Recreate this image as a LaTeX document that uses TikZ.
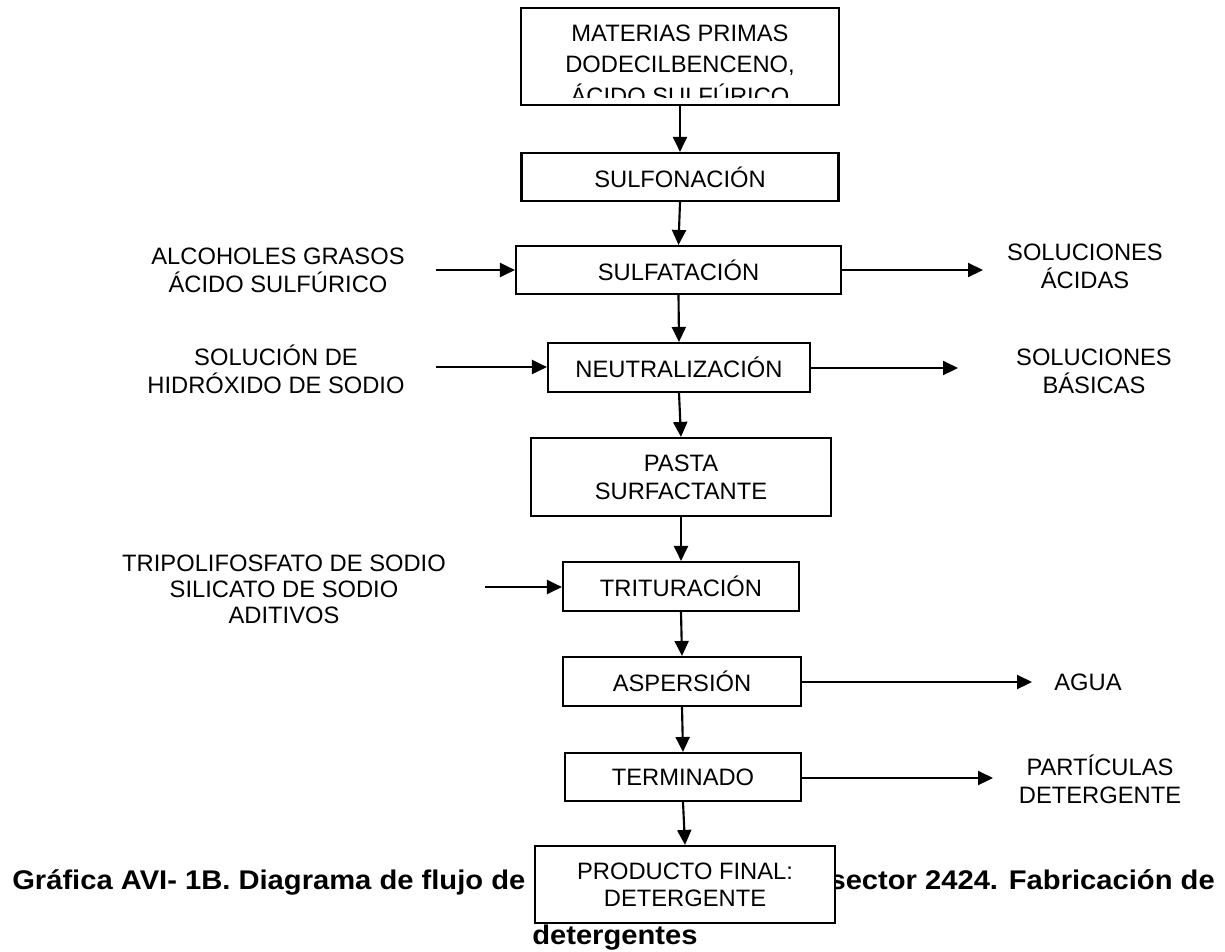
\documentclass[tikz,border=0pt]{standalone}
\usepackage{fontspec}
\usepackage{graphicx}
\setmainfont{Liberation Sans}
\usetikzlibrary{arrows.meta}
\begin{document}
\begin{tikzpicture}[x=0.75pt,y=-0.75pt,
  box/.style n args={2}{draw,line width=1.6pt,fill=white,inner sep=0pt,
    minimum width=#1*0.75pt,minimum height=#2*0.75pt,align=center,
    font=\fontsize{17.8pt}{21pt}\selectfont},
  lbl/.style={align=center,inner sep=0pt,font=\fontsize{17.8pt}{21pt}\selectfont},
  arr/.style={line width=1.6pt,-{Triangle[length=11.25pt,width=10.5pt]}},
  captxt/.style={inner sep=0pt,font=\fontsize{20.25pt}{24pt}\selectfont\bfseries}]
\useasboundingbox[fill=white] (0,0) rectangle (1225,951);

% caption (partly hidden behind the final box)
\node[captxt,anchor=base west] (capL) at (12,889) {\scalebox{1.08}[1]{Gráfica AVI- 1B. Diagrama de flujo de}};
\node[captxt,anchor=base east] (capR) at (1215,889) {\scalebox{1.08}[1]{sector 2424. Fabricación de}};
\node[captxt,anchor=base west] (capD) at (532,944) {\scalebox{1.08}[1]{detergentes}};

% process boxes
\node[box={318}{97}] (mp) at (680,56.5) {};
\begin{scope}
  \clip (521,8) rectangle (839,97);
  \node[lbl,font=\fontsize{17.8pt}{23.6pt}\selectfont] (mptxt) at (680,64.5)
    {MATERIAS PRIMAS\\DODECILBENCENO,\\ÁCIDO SULFÚRICO};
\end{scope}
\node[box={317}{48}] (sulfo) at (680,177) {SULFONACIÓN};
\node[box={325}{48}] (sulfat) at (678.5,270) {SULFATACIÓN};
\node[box={262}{49}] (neut) at (679,367.5) {NEUTRALIZACIÓN};
\node[box={300}{78}] (pasta) at (681,477) {PASTA\\SURFACTANTE};
\node[box={236}{49}] (tritu) at (681,586.5) {TRITURACIÓN};
\node[box={238}{49}] (asp) at (682,681.5) {ASPERSIÓN};
\node[box={236}{48}] (term) at (683,777) {TERMINADO};
\node[box={300}{77},font=\fontsize{17.8pt}{20.25pt}\selectfont] (prod) at (685,884.5) {PRODUCTO FINAL:\\DETERGENTE};

% side labels
\node[lbl] (alc) at (278,270) {ALCOHOLES GRASOS\\ÁCIDO SULFÚRICO};
\node[lbl] (naoh) at (276,369) {SOLUCIÓN DE\\HIDRÓXIDO DE SODIO};
\node[lbl] (acid) at (1085,266) {SOLUCIONES\\ÁCIDAS};
\node[lbl] (bas) at (1094,371) {SOLUCIONES\\BÁSICAS};
\node[lbl,font=\fontsize{17.8pt}{19.5pt}\selectfont] (trip) at (284,589)
  {TRIPOLIFOSFATO DE SODIO\\SILICATO DE SODIO\\ADITIVOS};
\node[lbl] (agua) at (1088,682) {AGUA};
\node[lbl] (part) at (1100,779) {PARTÍCULAS\\DETERGENTE};

% free ends of side arrows
\coordinate (i1) at (436,270);
\coordinate (i2) at (436,367);
\coordinate (i3) at (485,587);
\coordinate (o1) at (983,270);
\coordinate (o2) at (958,368);
\coordinate (o3) at (1032,682);
\coordinate (o4) at (993,778);

% main flow
\draw[arr] (mp.south) -- (sulfo.north);
\draw[arr] (sulfo.south) -- (sulfat.north);
\draw[arr] (sulfat.south) -- (neut.north);
\draw[arr] (neut.south) -- (pasta.north);
\draw[arr] (pasta.south) -- (tritu.north);
\draw[arr] (tritu.south) -- (asp.north);
\draw[arr] (asp.south) -- (term.north);
\draw[arr] (term.south) -- (prod.north);

% inputs
\draw[arr] (i1) -- (i1 -| sulfat.west);
\draw[arr] (i2) -- (i2 -| neut.west);
\draw[arr] (i3) -- (i3 -| tritu.west);

% outputs
\draw[arr] (sulfat.east |- o1) -- (o1);
\draw[arr] (neut.east |- o2) -- (o2);
\draw[arr] (asp.east |- o3) -- (o3);
\draw[arr] (term.east |- o4) -- (o4);
\end{tikzpicture}
\end{document}
